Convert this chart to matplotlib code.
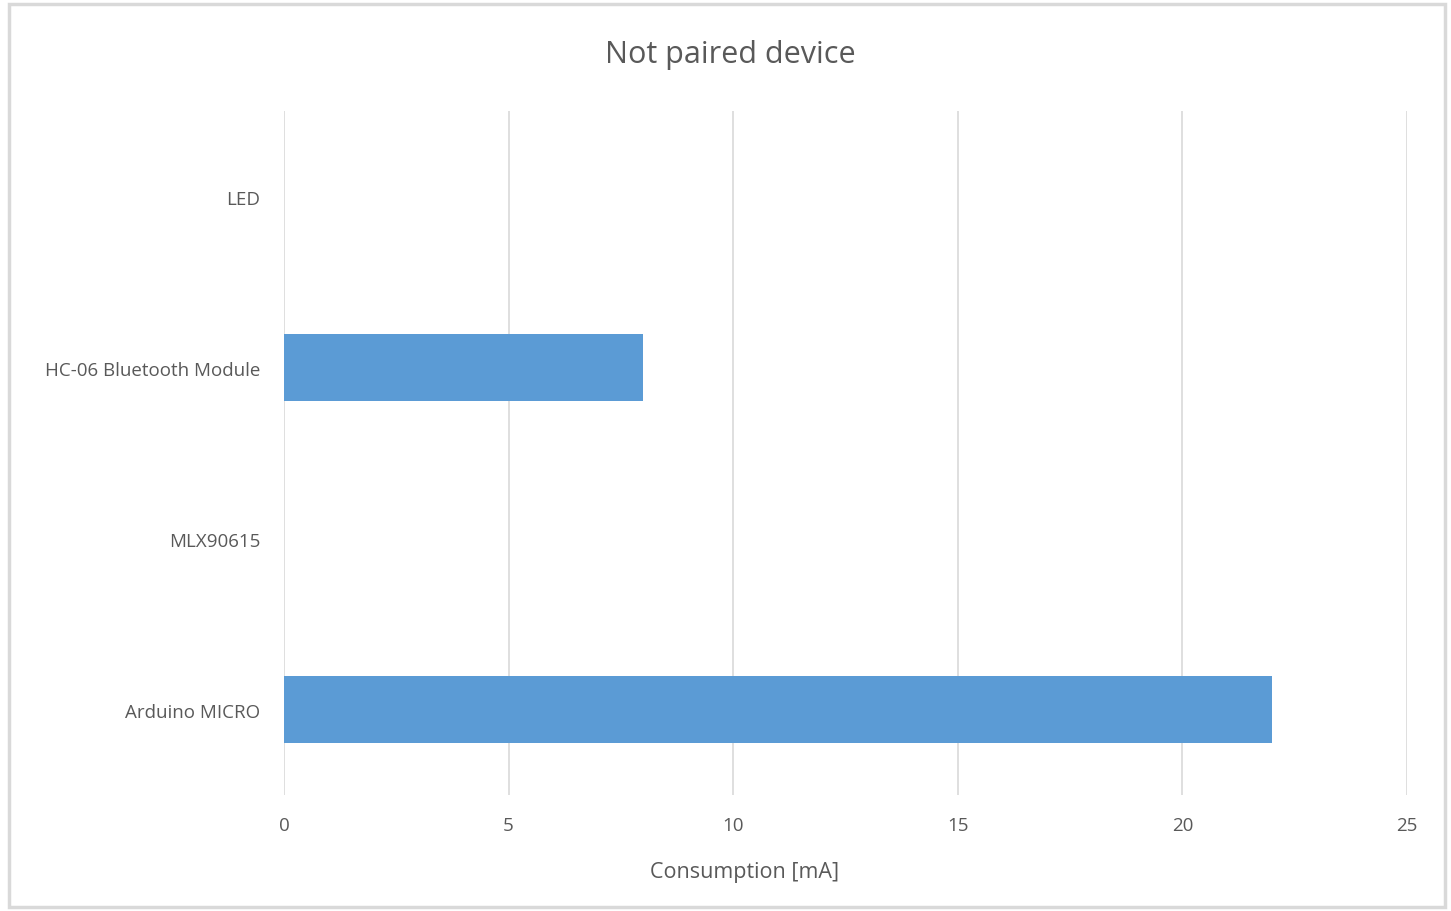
import matplotlib.pyplot as plt
from matplotlib.patches import Rectangle

# Data (bottom to top)
devices = ['Arduino MICRO', 'MLX90615', 'HC-06 Bluetooth Module', 'LED']
consumption_ma = [22, 0, 8, 0]
x_ticks = [0, 5, 10, 15, 20, 25]

plt.rcParams['font.family'] = ['Open Sans', 'DejaVu Sans']

fig = plt.figure(figsize=(14.51, 9.12), dpi=100)
fig.patch.set_facecolor('white')

# light frame around the chart area, like an Excel chart object
fig.patches.append(Rectangle((0.006, 0.004), 0.99, 0.99, transform=fig.transFigure,
                             fill=False, edgecolor='#d9d9d9', linewidth=2.5))

ax = fig.add_axes([0.1957, 0.127, 0.7740, 0.750])
ax.barh(range(len(devices)), consumption_ma, height=0.39, color='#5b9bd5', zorder=3)

ax.set_xlim(0, 25)
ax.set_ylim(-0.5, len(devices) - 0.5)
ax.set_xticks(x_ticks)
ax.set_yticks(range(len(devices)))
ax.set_yticklabels(devices)
ax.grid(axis='x', color='#d9d9d9', linewidth=1.2, zorder=0)
for s in ax.spines.values():
    s.set_visible(False)
ax.tick_params(length=0, labelsize=13.5, labelcolor='#595959')
ax.tick_params(axis='x', pad=15)
ax.tick_params(axis='y', pad=17)

fig.text(0.513, 0.043, 'Consumption [mA]', ha='center', va='center',
         fontsize=15.5, color='#595959')
fig.text(0.503, 0.94, 'Not paired device', ha='center', va='center',
         fontsize=22, color='#595959')

plt.savefig('out.png', dpi=100)
plt.close()
